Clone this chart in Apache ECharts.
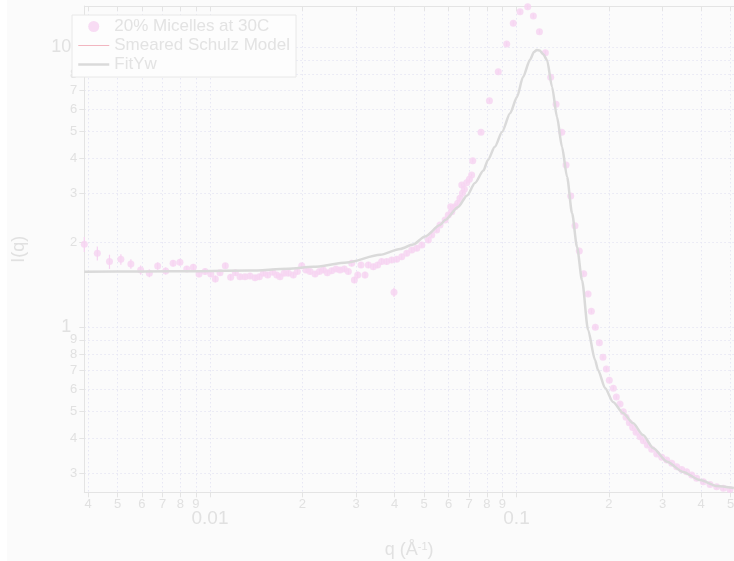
<!DOCTYPE html>
<html><head><meta charset="utf-8">
<script src="https://cdn.jsdelivr.net/npm/echarts@6/dist/echarts.min.js"></script>
<style>html,body{margin:0;padding:0;background:#ffffff;}#c{position:absolute;left:7px;top:0;width:727px;height:561px;background:#fbfbfb;}</style>
</head><body><div id="c"></div>
<script>
// measured data: q (1/A), I(q), error
const qData = [0.00389,0.00429,0.00470,0.00512,0.00552,0.00594,0.00634,0.00675,0.00717,0.00758,
0.00798,0.00840,0.00882,0.00921,0.00964,0.01006,0.01041,0.01078,0.01122,0.01168,
0.01210,0.01253,0.01301,0.01351,0.01403,0.01449,0.01493,0.01543,0.01602,0.01651,
0.01692,0.01744,0.01802,0.01870,0.01928,0.01992,0.02058,0.02121,0.02202,0.02274,
0.02343,0.02414,0.02495,0.02577,0.02656,0.02743,0.02827,0.0290,0.02958,0.03034,
0.0311,0.03205,0.03285,0.03411,0.03524,0.03632,0.03772,0.03916,0.03985,0.04067,
0.04223,0.04385,0.04553,0.04728,0.0491,
0.05156,0.0529,0.0549,0.0563,0.0585,0.0599,0.0615,0.0610,0.0630,0.0643,
0.0654,0.0663,0.0666,0.0676,0.0688,0.0702,0.0714,0.0720,0.0766,0.0816,
0.0872,0.0929,0.0976,0.1027,0.1088,0.1135,0.1188,0.1242,0.1293,0.1346,
0.1405,0.1451,0.1503,0.1552,0.1603,0.1657,0.1712,0.1755,0.1808,0.1863,
0.1915,0.1964,0.2008,0.2070,0.2117,0.2176,0.2231,0.2277,0.2334,0.2394,
0.2455,0.2530,0.2594,0.2672,0.2762,0.2868,0.2978,0.3091,0.3210,0.3332,
0.346,0.359,0.373,0.387,0.407,0.428,0.450,0.473,0.497];
const iData = [1.974,1.833,1.712,1.745,1.679,1.598,1.555,1.651,1.585,1.688,
1.702,1.611,1.634,1.546,1.577,1.546,1.484,1.563,1.656,1.504,
1.563,1.512,1.512,1.521,1.500,1.512,1.555,1.534,1.568,1.534,
1.512,1.555,1.555,1.534,1.577,1.656,1.598,1.577,1.546,1.577,
1.598,1.563,1.589,1.611,1.598,1.611,1.577,1.688,1.472,1.534,
1.665,1.534,1.665,1.642,1.665,1.712,1.712,1.735,1.330,1.745,
1.782,1.833,1.884,1.910,1.963,
2.045,2.131,2.221,2.313,2.411,2.512,2.581,2.689,2.689,2.766,
2.882,3.215,3.003,3.103,3.277,3.370,3.491,3.926,4.960,6.43,
8.16,10.25,12.15,13.37,13.93,12.90,11.34,9.54,7.795,6.243,
4.960,3.789,2.937,2.300,1.868,1.550,1.312,1.138,0.998,0.879,
0.779,0.708,0.645,0.604,0.562,0.531,0.498,0.476,0.455,0.438,
0.421,0.4057,0.3925,0.379,0.366,0.352,0.3424,0.335,0.326,0.317,
0.310,0.304,0.296,0.288,0.280,0.274,0.269,0.2655,0.263];
const errData = [0.12,0.105,0.10,0.075,0.065,0.06,0.05,0.05,0.045,0.045,
0.045,0.04,0.04,0.04,0.04,0.04,0.04,0.035,0.035,0.035,
0.035,0.035,0.035,0.035,0.035,0.035,0.035,0.035,0.035,0.035,
0.035,0.035,0.035,0.035,0.035,0.035,0.035,0.035,0.035,0.035,
0.035,0.035,0.035,0.035,0.035,0.035,0.035,0.04,0.04,0.04,
0.04,0.04,0.04,0.04,0.04,0.04,0.04,0.04,0.05,0.04,
0.04,0.04,0.04,0.04,0.04,
0.04,0.04,0.04,0.04,0.04,0.04,0.04,0.04,0.04,0.04,
0.04,0.04,0.04,0.04,0.04,0.04,0.04,0.06,0.08,0.1,
0.14,0.18,0.22,0.25,0.26,0.24,0.2,0.17,0.13,0.1,
0.08,0.06,0.05,0.04,0.03,0.025,0.02,0.018,0.015,0.013,
0.012,0.011,0.01,0.01,0.009,0.009,0.008,0.008,0.008,0.007,
0.007,0.007,0.006,0.006,0.006,0.006,0.005,0.005,0.005,0.005,
0.005,0.005,0.005,0.005,0.005,0.005,0.005,0.005,0.005];
// FitYw curve
const fitQ = [0.00389,0.0060,0.0093,0.0135,0.0180,0.0217,0.0280,0.0359,0.0417,0.0460,
0.0503,0.0563,0.0585,0.0645,0.0690,0.0732,0.0780,0.0807,0.0850,0.0897,
0.0953,0.1004,0.1050,0.1107,0.1140,0.1165,0.1190,0.1220,0.1258,0.1306,
0.1356,0.1408,0.1462,0.1518,0.1576,0.1636,0.1712,0.1804,0.1845,0.1945,
0.2065,0.2226,0.2399,0.2588,0.2789,0.3098,0.3495,0.397,0.451,0.512];
const fitI = [1.575,1.578,1.583,1.59,1.615,1.64,1.70,1.81,1.90,1.97,
2.105,2.313,2.41,2.683,2.95,3.27,3.62,3.95,4.40,4.97,
5.80,6.63,7.81,9.0,9.6,9.75,9.72,9.45,8.99,7.20,
5.62,4.39,3.44,2.55,1.93,1.47,0.976,0.762,0.702,0.606,
0.540,0.493,0.454,0.411,0.370,0.330,0.3035,0.284,0.2705,0.266];
const xTicks = [0.004,0.005,0.006,0.007,0.008,0.009,0.01,0.02,0.03,0.04,0.05,0.06,0.07,0.08,0.09,0.1,0.2,0.3,0.4,0.5];
const yTicks = [0.3,0.4,0.5,0.6,0.7,0.8,0.9,1,2,3,4,5,6,7,8,9,10];
const seriesNames = ['20% Micelles at 30C','Smeared Schulz Model','FitYw'];
const xRange = [0.00389, 0.5124];
const yRange = [0.2568, 14.01];

const TXT = '#e1e1e1';
const FONT = "'Liberation Sans Narrow','Liberation Sans',Arial,sans-serif";
const PT = '#f6d3f1';
const SCHULZ = '#f2b6c0';
const FITC = '#dadada';

function tickFmt(v){
  const e = Math.floor(Math.log10(v) + 1e-9);
  const m = Math.round(v / Math.pow(10, e));
  if (m === 1) return '{maj|' + String(+v.toPrecision(6)) + '}';
  return String(m);
}

const pts = qData.map((q,i)=>[q, iData[i]]);
const errs = qData.map((q,i)=>[q, iData[i], errData[i]]);
const fit = fitQ.map((q,i)=>[q, fitI[i]]);

const chart = echarts.init(document.getElementById('c'), null, {renderer:'canvas'});
const axisLine = {show:true, lineStyle:{color:'#e4e4e4', width:1}};
chart.setOption({
  animation:false,
  backgroundColor:'#fbfbfb',
  textStyle:{fontFamily:FONT},
  grid:{left:77.3, right:0, top:6, bottom:68.7, containLabel:false, outerBoundsMode:'none'},
  legend:{
    orient:'vertical', left:65, top:15, padding:[3,6,4,5], itemGap:2,
    itemWidth:31, itemHeight:11, backgroundColor:'#fdfdfd', borderColor:'#e8e8e8', borderWidth:1, borderRadius:0,
    textStyle:{fontFamily:"'Liberation Sans',Arial,sans-serif", fontSize:17, color:'#e3e3e3'},
    data:[{name:seriesNames[0]},
          {name:seriesNames[1], itemStyle:{opacity:0}, lineStyle:{width:1, color:SCHULZ}},
          {name:seriesNames[2], itemStyle:{opacity:0}, lineStyle:{width:2.5, color:FITC}}]
  },
  xAxis:[{
    type:'log', min:xRange[0], max:xRange[1], logBase:10,
    axisLine:axisLine,
    axisTick:{show:true, length:5, inside:false, customValues:xTicks, lineStyle:{color:'#e4e4e4'}},
    axisLabel:{show:true, customValues:xTicks, formatter:tickFmt, margin:6, fontSize:13, color:TXT, fontFamily:FONT,
      hideOverlap:false, showMinLabel:true, showMaxLabel:true,
      rich:{maj:{fontSize:19, color:TXT, fontFamily:FONT, padding:[11,0,0,0]}}},
    splitLine:{show:true, lineStyle:{color:'#e7e7f4', width:1, type:[1.5,2.5]}},
    minorTick:{show:false}, minorSplitLine:{show:false},
    name:'{a|q (Å}{s|-1}{a|)}', nameLocation:'middle', nameGap:49,
    nameTextStyle:{color:TXT, fontSize:17, fontFamily:FONT,
      rich:{a:{fontSize:18, color:TXT, fontFamily:FONT}, s:{fontSize:11, color:TXT, fontFamily:FONT, verticalAlign:'top'}}}
  },{
    type:'log', position:'top', min:xRange[0], max:xRange[1], logBase:10,
    axisLine:axisLine,
    axisTick:{show:true, length:5, inside:true, customValues:xTicks, lineStyle:{color:'#e4e4e4'}},
    axisLabel:{show:false}, splitLine:{show:false}
  }],
  yAxis:{
    type:'log', min:yRange[0], max:yRange[1], logBase:10,
    axisLine:axisLine,
    axisTick:{show:true, length:5, inside:false, customValues:yTicks, lineStyle:{color:'#e4e4e4'}},
    axisLabel:{show:true, customValues:yTicks, formatter:tickFmt, margin:7, fontSize:13, color:TXT, fontFamily:FONT,
      hideOverlap:false, showMinLabel:true, showMaxLabel:true,
      rich:{maj:{fontSize:18, color:TXT, fontFamily:FONT, padding:[0,6,0,0]}}},
    splitLine:{show:true, lineStyle:{color:'#e7e7f4', width:1, type:[1.5,2.5]}},
    name:'I(q)', nameLocation:'middle', nameGap:56,
    nameTextStyle:{color:TXT, fontSize:18, fontFamily:FONT}
  },
  series:[
    {name:seriesNames[0], type:'scatter', data:pts, symbol:'circle', symbolSize:7,
      itemStyle:{color:PT}, z:3, xAxisIndex:0},
    {name:'err', type:'custom', data:errs, z:2, xAxisIndex:0, silent:true,
      renderItem:function(params, api){
        const x = api.value(0), y = api.value(1), e = api.value(2);
        const p1 = api.coord([x, y - e]);
        const p2 = api.coord([x, y + e]);
        return {type:'line', shape:{x1:p1[0], y1:p1[1], x2:p2[0], y2:p2[1]}, style:{stroke:PT, lineWidth:1.2}};
      }},
    {name:seriesNames[1], type:'line', data:[], symbol:'none', showSymbol:false,
      lineStyle:{color:SCHULZ, width:1}, itemStyle:{color:SCHULZ}, xAxisIndex:0},
    {name:seriesNames[2], type:'line', data:fit, symbol:'none', showSymbol:false, smooth:0.25, smoothMonotone:'x',
      lineStyle:{color:FITC, width:2.5}, itemStyle:{color:FITC}, z:4, xAxisIndex:0}
  ]
});
</script></body></html>
